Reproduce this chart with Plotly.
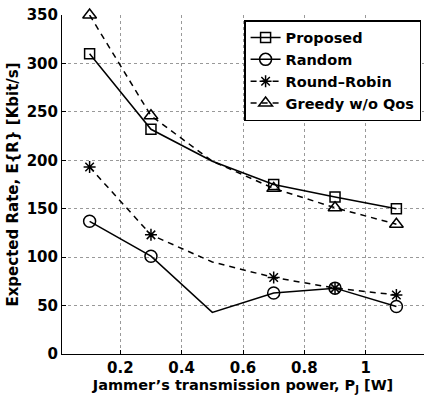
import plotly.graph_objects as go

power = [0.1, 0.3, 0.5, 0.7, 0.9, 1.1]
proposed = [310, 232, 199, 175, 162, 150]
random_ = [137, 101, 43, 63, 68, 49]
round_robin = [193, 123, 95, 79, 68, 61]
greedy = [350, 246, 199, 171, 151, 134]
marker_x = [0.1, 0.3, 0.7, 0.9, 1.1]
y_ticks = [0, 50, 100, 150, 200, 250, 300, 350]
x_ticks = [0.2, 0.4, 0.6, 0.8, 1.0]
x_tick_labels = ["0.2", "0.4", "0.6", "0.8", "1"]

series = [
    ("Proposed", proposed, "solid", "square-open", 10),
    ("Random", random_, "solid", "circle-open", 12),
    ("Round\u2013Robin", round_robin, "6px,5px", "asterisk-open", 10),
    ("Greedy w/o Qos", greedy, "6px,5px", "triangle-up-open", 12),
]

FAM = "DejaVu Sans, Arial, sans-serif"
fig = go.Figure()
for name, vals, dash, sym, size in series:
    fig.add_trace(go.Scatter(x=power, y=vals, mode="lines",
                             line=dict(color="black", width=1.5, dash=dash),
                             showlegend=False, hoverinfo="skip", cliponaxis=False))
    mvals = [v for x, v in zip(power, vals) if x in marker_x]
    fig.add_trace(go.Scatter(x=marker_x, y=mvals, mode="markers",
                             marker=dict(symbol=sym, size=size, color="black",
                                         line=dict(color="black", width=1.5)),
                             showlegend=False, cliponaxis=False))
    fig.add_trace(go.Scatter(x=[None], y=[None], mode="lines+markers", name=name,
                             line=dict(color="black", width=1.5, dash=dash),
                             marker=dict(symbol=sym, size=size, color="black",
                                         line=dict(color="black", width=1.5))))

fig.update_layout(
    width=424, height=399,
    margin=dict(l=62, r=0, t=15, b=45),
    paper_bgcolor="white", plot_bgcolor="white",
    font=dict(family=FAM, size=15, color="black"),
    showlegend=True,
    legend=dict(x=0.503, y=0.985, xanchor="left", yanchor="top",
                bgcolor="white", bordercolor="black", borderwidth=1.5,
                font=dict(family=FAM, size=14.5, color="black", weight="bold"),
                itemwidth=30, tracegroupgap=0),
)
fig.update_xaxes(
    range=[0.01, 1.19], tickvals=x_ticks, ticktext=x_tick_labels,
    showline=True, linecolor="black", linewidth=1,
    ticks="inside", ticklen=4, tickcolor="black",
    showgrid=True, gridcolor="#999999", griddash="dot", gridwidth=1,
    zeroline=False,
    tickfont=dict(family=FAM, size=15, weight="bold"),
    title=dict(text="Jammer\u2019s transmission power, P<sub>J</sub> [W]",
               font=dict(family=FAM, size=14.5, weight="bold"),
               standoff=0),
)
fig.update_yaxes(
    range=[0, 350], tickvals=y_ticks,
    showline=True, linecolor="black", linewidth=1,
    ticks="inside", ticklen=4, tickcolor="black",
    showgrid=True, gridcolor="#999999", griddash="dot", gridwidth=1,
    zeroline=False,
    tickfont=dict(family=FAM, size=15, weight="bold"),
    title=dict(text="Expected Rate, E{R} [Kbit/s]",
               font=dict(family=FAM, size=15, weight="bold"),
               standoff=4),
)
fig.write_html("out.html",
               config={"displayModeBar": False},
               post_script="document.body.style.margin='0';document.body.style.padding='0';")
